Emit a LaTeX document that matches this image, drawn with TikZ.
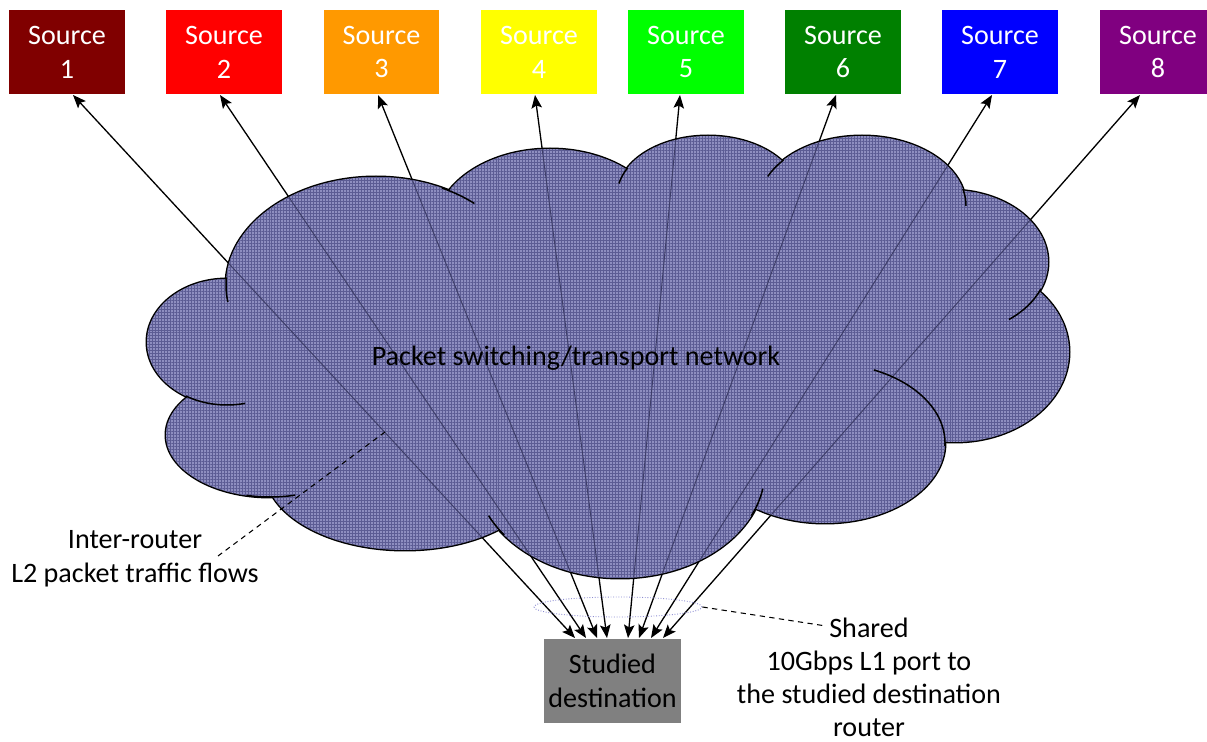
\documentclass[tikz,border=0pt]{standalone}
\usepackage{fontspec}
\setmainfont{Carlito}
\usetikzlibrary{arrows.meta,shapes.geometric,patterns.meta,calc}

\definecolor{srcA}{RGB}{128,0,0}
\definecolor{srcB}{RGB}{255,0,0}
\definecolor{srcC}{RGB}{255,153,0}
\definecolor{srcD}{RGB}{255,255,0}
\definecolor{srcE}{RGB}{0,255,0}
\definecolor{srcF}{RGB}{0,128,0}
\definecolor{srcG}{RGB}{0,0,255}
\definecolor{srcH}{RGB}{128,0,128}
\definecolor{destgray}{RGB}{128,128,128}
\definecolor{cloudfill}{RGB}{142,142,192}
\definecolor{cloudgrid}{RGB}{92,92,148}
\definecolor{innerline}{RGB}{62,62,105}
\definecolor{portcol}{RGB}{140,140,210}

\newcommand{\cloudunion}{%
  (376,285) ellipse [x radius=150, y radius=108]
  (550,229) ellipse [x radius=115, y radius=80]
  (708,196) ellipse [x radius=91, y radius=60]
  (862,206) ellipse [x radius=104, y radius=70]
  (950,262) ellipse [x radius=98, y radius=72]
  (955,352) ellipse [x radius=114, y radius=90]
  (825,443) ellipse [x radius=120, y radius=80]
  (620,470) ellipse [x radius=145, y radius=108]
  (405,470) ellipse [x radius=140, y radius=80]
  (270,435) ellipse [x radius=104, y radius=62]
  (227,342) ellipse [x radius=80, y radius=63]
  (610,360) ellipse [x radius=378, y radius=148]}
\newcommand{\cloudlobes}{%
  (376,285) ellipse [x radius=150, y radius=108]
  (550,229) ellipse [x radius=115, y radius=80]
  (708,196) ellipse [x radius=91, y radius=60]
  (862,206) ellipse [x radius=104, y radius=70]
  (950,262) ellipse [x radius=98, y radius=72]
  (955,352) ellipse [x radius=114, y radius=90]
  (825,443) ellipse [x radius=120, y radius=80]
  (620,470) ellipse [x radius=145, y radius=108]
  (405,470) ellipse [x radius=140, y radius=80]
  (270,435) ellipse [x radius=104, y radius=62]
  (227,342) ellipse [x radius=80, y radius=63]}
\newcommand{\lobearc}[6]{\draw[cloudedge] ($(#1,#2)+(#5:#3 and #4)$) arc[start angle=#5, end angle=#6, x radius=#3, y radius=#4];}

\begin{document}
\begin{tikzpicture}[x=0.02cm, y=-0.02cm,
  font=\fontsize{16}{19.3}\selectfont,
  srcbox/.style={fill=#1, text=white, minimum width=2.32cm, minimum height=1.68cm, inner sep=0pt, align=center},
  flow/.style={{Stealth[length=7.5pt,width=6pt,inset=1.5pt]}-{Stealth[length=7.5pt,width=6pt,inset=1.5pt]}, line width=0.75pt, black},
  innerflow/.style={line width=0.55pt, innerline},
  cloudedge/.style={line width=0.85pt, black},
  callout/.style={dashed, dash pattern=on 3pt off 2.5pt, line width=0.6pt, black},
  label/.style={align=center, inner sep=0pt, text=black}]
\useasboundingbox (0,0) rectangle (1207,742);

% sources
\node[srcbox=srcA] (s1) at (67,52) {Source\\1};
\node[srcbox=srcB] (s2) at (224,52) {Source\\2};
\node[srcbox=srcC] (s3) at (381.5,52) {Source\\3};
\node[srcbox=srcD] (s4) at (539,52) {Source\\4};
\node[srcbox=srcE] (s5) at (686,52) {Source\\5};
\node[srcbox=srcF] (s6) at (843,52) {Source\\6};
\node[srcbox=srcG] (s7) at (1000,52) {Source\\7};
\node[srcbox=srcH] (s8) at (1158,52) {Source\\8};

% destination
\node[fill=destgray, minimum width=2.74cm, minimum height=1.68cm, inner sep=0pt, align=center] (dst) at (612.5,681) {Studied\\destination};

% arrow end points
\coordinate (t1) at (73,95);
\coordinate (t2) at (220,95);
\coordinate (t3) at (378,95);
\coordinate (t4) at (535,95);
\coordinate (t5) at (680,95);
\coordinate (t6) at (836,95);
\coordinate (t7) at (992,95);
\coordinate (t8) at (1140,95);
\coordinate (d1) at (575,638);
\coordinate (d2) at (586,638);
\coordinate (d3) at (597,638);
\coordinate (d4) at (607,638);
\coordinate (d5) at (628,638);
\coordinate (d6) at (639,638);
\coordinate (d7) at (651,638);
\coordinate (d8) at (663,638);

\foreach \i in {1,...,8} {\draw[flow] (d\i) -- (t\i);}

% cloud
\draw[line width=1.7pt, black] \cloudlobes;
\path[fill=cloudfill, postaction={pattern={Hatch[distance=1.7pt, line width=0.35pt]}, pattern color=cloudgrid}] \cloudunion;
\begin{scope}
  \clip \cloudunion;
  \foreach \i in {1,...,8} {\draw[innerflow] (d\i) -- (t\i);}
\end{scope}

% interior arcs of the cloud
\lobearc{376}{285}{150}{108}{-64}{-49}
\lobearc{708}{196}{91}{60}{-152}{-168}
\lobearc{862}{206}{104}{70}{-139}{-155}
\lobearc{862}{206}{104}{70}{-14}{0}
\lobearc{950}{262}{98}{72}{22}{53}
\lobearc{825}{443}{120}{80}{-66}{2}
\lobearc{620}{470}{145}{108}{25}{10}
\lobearc{620}{470}{145}{108}{143}{155}
\lobearc{270}{435}{104}{62}{103}{76}
\lobearc{227}{342}{80}{63}{121}{77}
\lobearc{376}{285}{150}{108}{184}{171}

\node[label] (net) at (576,358) {Packet switching/transport network};

% shared port
\node[ellipse, draw=portcol, densely dotted, line width=0.5pt, minimum width=3.36cm, minimum height=0.4cm, inner sep=0pt] (port) at (618,607) {};
\node[label, font=\fontsize{16}{18.8}\selectfont] (shared) at (869,677) {Shared\\10Gbps L1 port to\\the studied destination\\router};
\coordinate (sharedend) at (826,626);
\draw[callout] (port.east) -- (sharedend);

% inter-router flows
\coordinate (flowpt) at (385,432);
\node[label] (inter) at (135,559) {Inter-router\\L2 packet traffic flows};
\coordinate (interend) at (218,556);
\draw[callout] (flowpt) -- (interend);
\end{tikzpicture}
\end{document}
